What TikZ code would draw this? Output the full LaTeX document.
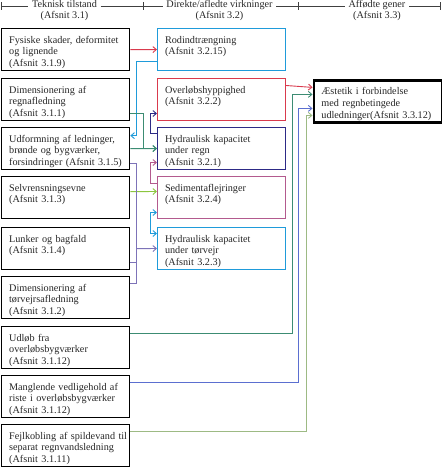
\documentclass[tikz,border=0pt]{standalone}
\usepackage{fontspec}
\setmainfont{Liberation Serif}
\usetikzlibrary{arrows.meta}
\definecolor{rodc}{HTML}{D93A4D}
\definecolor{cyanc}{HTML}{1F9BDA}
\definecolor{navyc}{HTML}{2D2A86}
\definecolor{mauvec}{HTML}{B35A8E}
\definecolor{tealc}{HTML}{3C8C73}
\definecolor{lavc}{HTML}{7D73B8}
\definecolor{limec}{HTML}{8CC63F}
\definecolor{bluec}{HTML}{5B6FD0}
\definecolor{sagec}{HTML}{9DBA84}
\begin{document}
\begin{tikzpicture}[x=1pt, y=-1pt,
    font=\fontsize{10.2}{11.6}\selectfont, text=black!85,
    >={Straight Barb[length=3.5pt,width=6pt]},
    box/.style={draw, anchor=north west, minimum width=128pt, text width=121pt,
        inner xsep=3.5pt, inner ysep=4pt, text height=10.5pt, text depth=23.5pt,
        align=left, execute at begin node={\leftskip=4pt\rightskip=-30pt plus 1fil}},
    tbox/.style={box, line width=1.3pt},
    dbox/.style={box, line width=1pt},
    gbox/.style={box, line width=2.8pt},
    head/.style={anchor=base, inner xsep=3.5pt, inner ysep=0pt},
    link/.style={->, line width=0.9pt},
]
\useasboundingbox (0,0) rectangle (442,469);

% header
\coordinate (k0) at (1,6);
\coordinate (k1) at (143,6);
\coordinate (k2) at (298,6);
\coordinate (k3) at (440,6);
\node[head] (h1) at (64.5,7) {Teknisk tilstand};
\node[head] (h1a) at (64.5,18) {(Afsnit 3.1)};
\node[head] (h2) at (219.5,7) {Direkte/afledte virkninger};
\node[head] (h2a) at (219.5,18) {(Afsnit 3.2)};
\node[head] (h3) at (377,7) {Affødte gener};
\node[head] (h3a) at (377,18) {(Afsnit 3.3)};
\draw[black!75, line width=0.8pt]
    (k0) -- (k0 -| h1.west) (h1.east |- k1) -- (k1)
    (k1) -- (k1 -| h2.west) (h2.east |- k2) -- (k2)
    (k2) -- (k2 -| h3.west) (h3.east |- k3) -- (k3);
\foreach \k in {k0,k1,k2,k3}
    \draw[black!75, line width=0.8pt] ([yshift=4pt]\k) -- ([yshift=-4pt]\k);

% teknisk tilstand
\node[tbox] (t1) at (1,28) {Fysiske skader, deformitet\\og lignende\\(Afsnit 3.1.9)};
\node[tbox] (t2) at (1,78) {Dimensionering af\\regnafledning\\(Afsnit 3.1.1)};
\node[tbox] (t3) at (1,127) {Udformning af ledninger,\\brønde og bygværker,\\forsindringer (Afsnit 3.1.5)};
\node[tbox] (t4) at (1,176) {Selvrensningsevne\\(Afsnit 3.1.3)};
\node[tbox] (t5) at (1,227) {Lunker og bagfald\\(Afsnit 3.1.4)};
\node[tbox] (t6) at (1,276) {Dimensionering af\\tørvejrsafledning\\(Afsnit 3.1.2)};
\node[tbox] (t7) at (1,326) {Udløb fra\\overløbsbygværker\\(Afsnit 3.1.12)};
\node[tbox] (t8) at (1,375) {Manglende vedligehold af\\riste i overløbsbygværker\\(Afsnit 3.1.12)};
\node[tbox] (t9) at (1,424) {Fejlkobling af spildevand til\\separat regnvandsledning\\(Afsnit 3.1.11)};

% direkte/afledte virkninger
\node[dbox, cyanc] (d1) at (157,28) {\color{black!85}Rodindtrængning\\(Afsnit 3.2.15)};
\node[dbox, rodc] (d2) at (157,78) {\color{black!85}Overløbshyppighed\\(Afsnit 3.2.2)};
\node[dbox, navyc] (d3) at (157,127) {\color{black!85}Hydraulisk kapacitet\\under regn\\(Afsnit 3.2.1)};
\node[dbox, mauvec] (d4) at (157,176) {\color{black!85}Sedimentaflejringer\\(Afsnit 3.2.4)};
\node[dbox, cyanc] (d5) at (157,227) {\color{black!85}Hydraulisk kapacitet\\under tørvejr\\(Afsnit 3.2.3)};

% affødte gener
\node[gbox] (g) at (312.5,79) {Æstetik i forbindelse\\med regnbetingede\\udledninger(Afsnit 3.3.12)};

% connectors
\draw[link, rodc] (t1) -- (d1);
\draw[link, cyanc] ([yshift=-12pt]d1.west) -- ++(-21,0) |- ([yshift=13pt]t3.east);
\draw[link, tealc] ([yshift=-14pt]t2.east) -- ++(13.5,0) |- (d3.west);
\draw[link, tealc] (t3) -- (d3);
\draw[link, navyc] ([yshift=15pt]d3.west) -- ++(-6.5,0) |- ([yshift=-14pt]d2.west);
\draw[link, mauvec] ([yshift=14pt]d4.west) -- ++(-6.5,0) |- ([yshift=-14pt]d3.west);
\draw[link, limec] ([yshift=6pt]t4.east) -- ([yshift=6pt]d4.west);
\draw[link, <->, cyanc] ([yshift=-15pt]d4.west) -- ++(-6.5,0) |- ([yshift=15pt]d5.west);
\draw[lavc, line width=0.9pt] ([yshift=-15pt]t3.east) -- ++(6,0) |- ([yshift=14pt]t6.east);
\draw[lavc, line width=0.9pt] ([yshift=-14pt]t5.east) -- ++(6,0);
\draw[link, lavc] (t5.east) ++(6,0) -- (d5.west);
\draw[link, rodc] ([yshift=14pt]d2.east) -- ([yshift=14pt]g.west);
\draw[link, tealc] ([yshift=14pt]t7.east) -- ++(162,0) |- ([yshift=7pt]g.west);
\draw[link, bluec] ([yshift=14pt]t8.east) -- ++(168,0) |- ([yshift=-7pt]g.west);
\draw[link, sagec] ([yshift=14pt]t9.east) -- ++(176,0) |- ([yshift=-14pt]g.west);
\end{tikzpicture}
\end{document}
